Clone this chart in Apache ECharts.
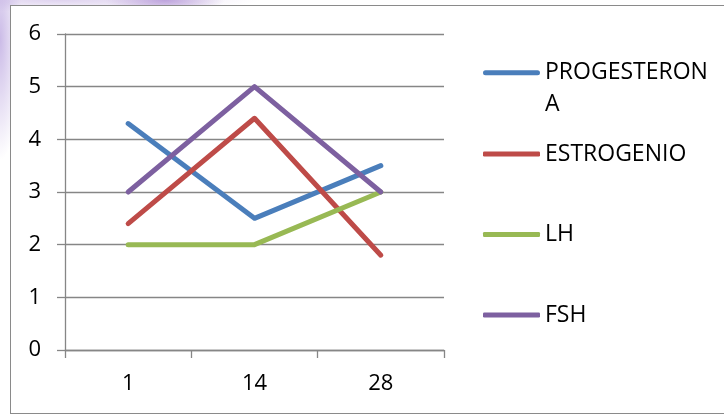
<!DOCTYPE html>
<html>
<head>
<meta charset="utf-8">
<script src="https://cdn.jsdelivr.net/npm/echarts@6/dist/echarts.min.js"></script>
<style>
  html, body { margin: 0; padding: 0; }
  body {
    width: 724px; height: 417px; overflow: hidden; position: relative;
    background:
      radial-gradient(ellipse 60px 14px at 165px 0px, rgba(180,150,215,0.85), rgba(255,255,255,0) 100%),
      radial-gradient(ellipse 22px 120px at 0px 40px, rgba(190,170,225,0.8), rgba(255,255,255,0) 100%),
      radial-gradient(ellipse 200px 12px at 60px 0px, rgba(215,200,235,0.8), rgba(255,255,255,0) 100%),
      #ffffff;
  }
  #box {
    position: absolute; left: 10px; top: 5px; width: 730px; height: 409px;
    background: #ffffff; border: 1px solid #8a8a8a; box-sizing: border-box;
  }
  #chart { position: absolute; left: 0; top: 0; width: 724px; height: 417px; }
</style>
</head>
<body>
<div id="box"></div>
<div id="chart"></div>
<script>
const categories = ['1', '14', '28'];
const seriesNames = ['PROGESTERONA', 'ESTROGENIO', 'LH', 'FSH'];
const progesterona = [4.3, 2.5, 3.5];
const estrogenio = [2.4, 4.4, 1.8];
const lh = [2, 2, 3];
const fsh = [3, 5, 3];
const yTicks = [0, 1, 2, 3, 4, 5, 6];

const colors = ['#4a7ebb', '#be4b48', '#98b954', '#7d60a0'];
const values = [progesterona, estrogenio, lh, fsh];
const fontFamily = '"Open Sans", "Noto Sans", sans-serif';

const chart = echarts.init(document.getElementById('chart'), null, { renderer: 'canvas' });

// legend layout (icon centre y for each entry)
const legendCentres = [72.7, 154, 234.5, 315];
const legendTextStyle = { fontSize: 23, fontWeight: 500, color: '#000', lineHeight: 32, fontFamily: fontFamily };
// two-line entry: bar drawn at the height of the first text line
const twoLineIcon = 'path://M0,0L0.01,0M57,64L56.99,64M2.5,13.5L54.5,13.5A2.5,2.5,0,0,1,54.5,18.5L2.5,18.5A2.5,2.5,0,0,1,2.5,13.5Z';

const legends = seriesNames.map(function (n, i) {
  const twoLine = n === 'PROGESTERONA';
  return {
    orient: 'vertical',
    left: 483,
    top: legendCentres[i] - 16,
    padding: 0,
    itemWidth: 57,
    itemHeight: twoLine ? 64 : 5,
    icon: twoLine ? twoLineIcon : 'roundRect',
    symbolKeepAspect: false,
    selectedMode: false,
    textStyle: legendTextStyle,
    formatter: function (name) {
      return name === 'PROGESTERONA' ? 'PROGESTERON\nA' : name;
    },
    data: [{ name: n, itemStyle: { color: colors[i], borderWidth: 0 } }]
  };
});

const option = {
  backgroundColor: 'transparent',
  animation: false,
  color: colors,
  textStyle: { fontFamily: fontFamily },
  grid: { left: 65, right: 280, top: 34, bottom: 67, containLabel: false },
  legend: legends,
  xAxis: {
    type: 'category',
    data: categories,
    boundaryGap: true,
    axisLine: { show: true, lineStyle: { color: '#868686', width: 1.3 } },
    axisTick: { show: true, length: 8, alignWithLabel: false, lineStyle: { color: '#868686', width: 1.3 } },
    axisLabel: { color: '#000', fontSize: 22, fontWeight: 500, margin: 23, fontFamily: fontFamily },
    splitLine: { show: false }
  },
  yAxis: {
    type: 'value',
    min: yTicks[0],
    max: yTicks[yTicks.length - 1],
    interval: 1,
    axisLine: { show: true, lineStyle: { color: '#868686', width: 1.3 } },
    axisTick: { show: true, length: 8, inside: false, lineStyle: { color: '#868686', width: 1.3 } },
    axisLabel: { color: '#000', fontSize: 22, fontWeight: 500, margin: 24, fontFamily: fontFamily },
    splitLine: { show: true, lineStyle: { color: '#868686', width: 1.3 } }
  },
  series: seriesNames.map(function (n, i) {
    return {
      name: n,
      type: 'line',
      data: values[i],
      symbol: 'none',
      smooth: false,
      lineStyle: { color: colors[i], width: 5, cap: 'round', join: 'round' },
      itemStyle: { color: colors[i] },
      emphasis: { disabled: true }
    };
  })
};

chart.setOption(option);
</script>
</body>
</html>
